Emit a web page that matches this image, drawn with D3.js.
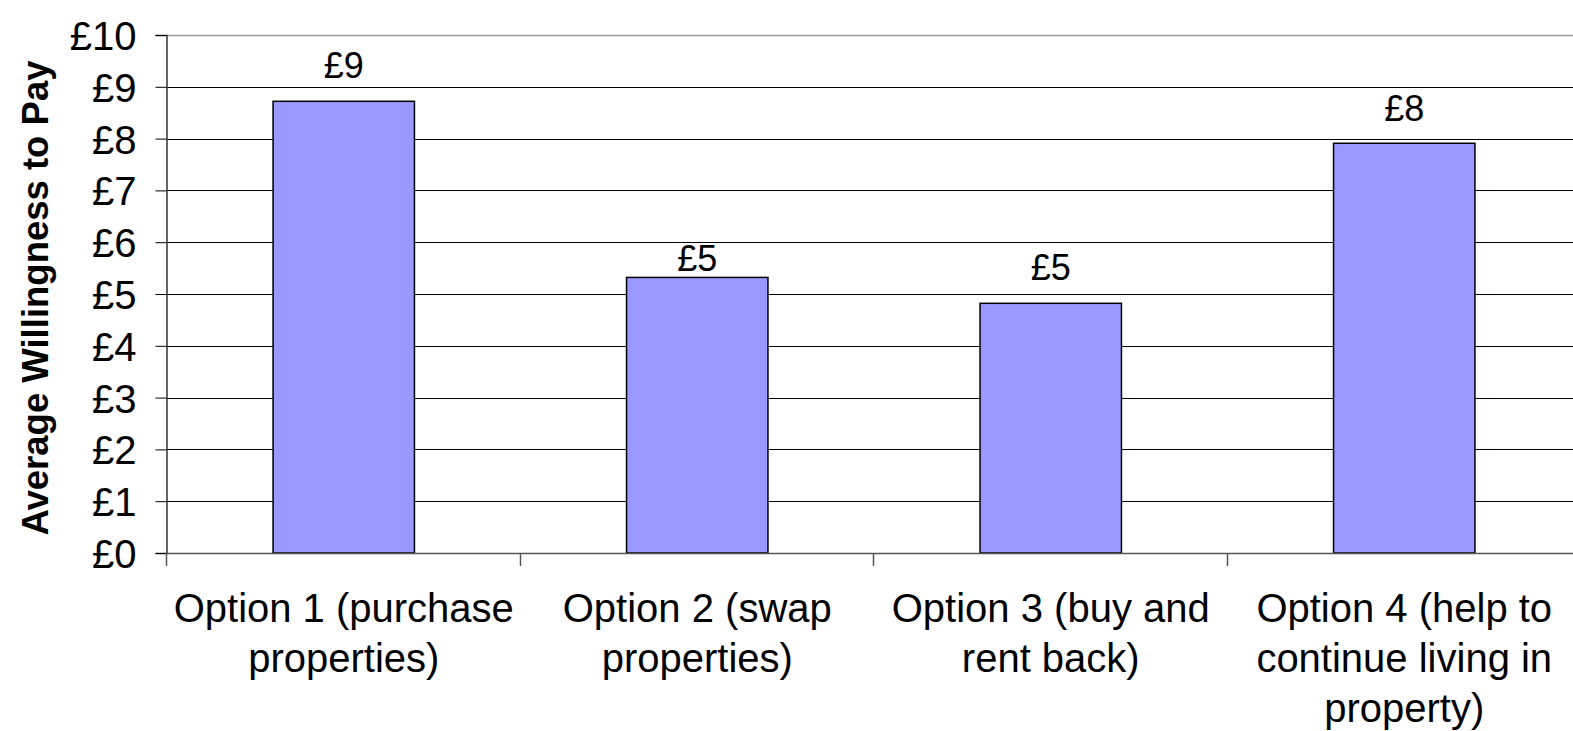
<!DOCTYPE html>
<html>
<head>
<meta charset="utf-8">
<script src="https://cdn.jsdelivr.net/npm/d3@7"></script>
<style>
  html, body { margin: 0; padding: 0; background: #fff; }
  svg { display: block; }
  text { font-family: "Liberation Sans", Arial, sans-serif; fill: #000; }
</style>
</head>
<body>
<svg id="chart" width="1573" height="731"></svg>
<script>
const categories = [
  "Option 1 (purchase\nproperties)",
  "Option 2 (swap\nproperties)",
  "Option 3 (buy and\nrent back)",
  "Option 4 (help to\ncontinue living in\nproperty)"
];
const values = [8.72, 5.32, 4.82, 7.91];
const valueLabels = ["£9", "£5", "£5", "£8"];
const yTicks = [0, 1, 2, 3, 4, 5, 6, 7, 8, 9, 10];
const yTickLabels = ["£0", "£1", "£2", "£3", "£4", "£5", "£6", "£7", "£8", "£9", "£10"];
const yTitle = "Average Willingness to Pay";

// style: gap between label baseline and bar top
const labelGaps = [23, 6, 23, 22];

const svg = d3.select("#chart");
const pLeft = 167, pRight = 1581, pTop = 35, pBottom = 553;

const x = d3.scaleBand().domain(categories).range([pLeft, pRight])
  .paddingInner(0.6).paddingOuter(0.3);
const y = d3.scaleLinear().domain([0, 10]).range([pBottom, pTop]);
const step = x.step();

// gridlines
svg.append("g").selectAll("line").data(yTicks.filter(d => d > 0 && d < 10)).join("line")
  .attr("x1", pLeft).attr("x2", pRight)
  .attr("y1", d => Math.round(y(d)) + 0.5).attr("y2", d => Math.round(y(d)) + 0.5)
  .attr("stroke", "#000").attr("stroke-width", 1);
// top border
svg.append("line").attr("x1", pLeft).attr("x2", pRight)
  .attr("y1", Math.round(y(10)) + 0.5).attr("y2", Math.round(y(10)) + 0.5)
  .attr("stroke", "#999").attr("stroke-width", 1.5);

// bars
svg.append("g").selectAll("rect").data(values).join("rect")
  .attr("x", (d, i) => x(categories[i]))
  .attr("y", d => y(d))
  .attr("width", x.bandwidth())
  .attr("height", d => y(0) - y(d))
  .attr("fill", "#9999FF")
  .attr("stroke", "#000")
  .attr("stroke-width", 1.5);

// value labels
svg.append("g").selectAll("text").data(values).join("text")
  .attr("x", (d, i) => x(categories[i]) + x.bandwidth() / 2)
  .attr("y", (d, i) => y(d) - labelGaps[i])
  .attr("text-anchor", "middle")
  .attr("font-size", 36)
  .text((d, i) => valueLabels[i]);

// y axis
const yAxis = d3.axisLeft(y).tickValues(yTicks)
  .tickFormat((d, i) => yTickLabels[i]).tickSize(11).tickPadding(19);
const gy = svg.append("g").attr("transform", `translate(${pLeft - 0.5},0)`).call(yAxis);
gy.select(".domain").attr("stroke", "#333").attr("stroke-width", 1.5);
gy.selectAll(".tick line").attr("stroke", "#000");
gy.selectAll(".tick text").attr("font-size", 40)
  .attr("font-family", "Liberation Sans, Arial, sans-serif").attr("fill", "#000")
  .attr("dy", "0.36em");

// x baseline
svg.append("line").attr("x1", pLeft).attr("x2", pRight)
  .attr("y1", pBottom + 0.5).attr("y2", pBottom + 0.5)
  .attr("stroke", "#555").attr("stroke-width", 1.5);

// category boundary ticks
const bounds = categories.map(c => x(c) - step * 0.3).concat([pRight]);
svg.append("g").selectAll("line").data(bounds).join("line")
  .attr("x1", d => Math.round(d) - 0.5).attr("x2", d => Math.round(d) - 0.5)
  .attr("y1", pBottom).attr("y2", pBottom + 13)
  .attr("stroke", "#555").attr("stroke-width", 1.5);

// category labels
const cl = svg.append("g").selectAll("text").data(categories).join("text")
  .attr("text-anchor", "middle")
  .attr("font-size", 40)
  .attr("transform", d => `translate(${x(d) + x.bandwidth() / 2},622)`);
cl.each(function(d) {
  const t = d3.select(this);
  d.split("\n").forEach((line, i) => {
    t.append("tspan").attr("x", 0).attr("y", i * 50).text(line);
  });
});

// y title
svg.append("text")
  .attr("transform", `translate(48,${(pTop + pBottom) / 2 + 4}) rotate(-90)`)
  .attr("text-anchor", "middle")
  .attr("font-size", 36.5)
  .attr("font-weight", "bold")
  .text(yTitle);
</script>
</body>
</html>
